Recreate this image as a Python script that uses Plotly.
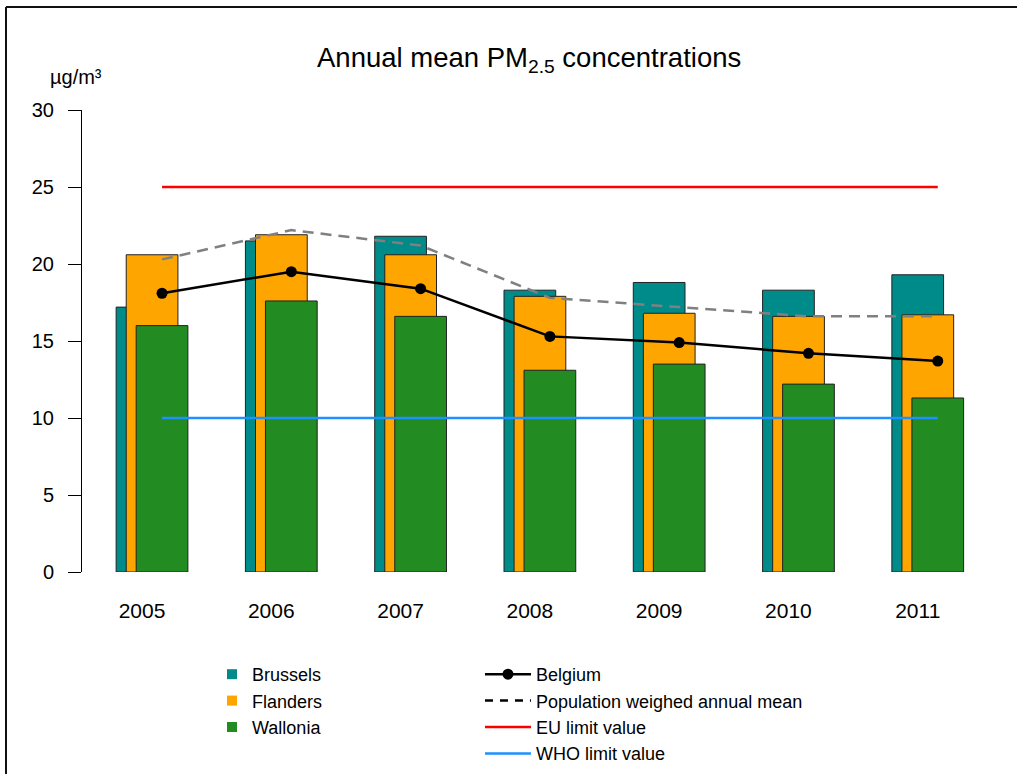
import plotly.graph_objects as go

years = [2005, 2006, 2007, 2008, 2009, 2010, 2011]
brussels = [17.2, 21.5, 21.8, 18.3, 18.8, 18.3, 19.3]
flanders = [20.6, 21.9, 20.6, 17.9, 16.8, 16.6, 16.7]
wallonia = [16.0, 17.6, 16.6, 13.1, 13.5, 12.2, 11.3]
belgium = [18.1, 19.5, 18.4, 15.3, 14.9, 14.2, 13.7]
pop_weighted = [20.3, 22.2, 21.2, 17.8, 17.2, 16.6, 16.6]
eu_limit = [25] * len(years)
who_limit = [10] * len(years)
y_ticks = [0, 5, 10, 15, 20, 25, 30]

FONT = "Liberation Sans, Arial, sans-serif"
TEAL, ORANGE, GREEN = "#008B8B", "#FFA500", "#228B22"
BAR_W = 0.4

fig = go.Figure()

# overlapping bars, each region shifted a little to the right
for name, vals, col, off in [
    ("Brussels", brussels, TEAL, -0.355),
    ("Flanders", flanders, ORANGE, -0.277),
    ("Wallonia", wallonia, GREEN, -0.2),
]:
    fig.add_trace(go.Bar(
        x=years, y=vals, width=BAR_W, offset=off,
        marker=dict(color=col, line=dict(color="#222222", width=1)),
        showlegend=False, hoverinfo="skip",
    ))
    # small square for the legend
    fig.add_trace(go.Scatter(
        x=[None], y=[None], mode="markers", name=name,
        marker=dict(symbol="square", size=10, color=col),
        legend="legend",
    ))

fig.add_trace(go.Scatter(
    x=years, y=eu_limit, mode="lines", name="EU limit value",
    line=dict(color="#FF0000", width=2.5), legend="legend2", legendrank=3,
))
fig.add_trace(go.Scatter(
    x=years, y=who_limit, mode="lines", name="WHO limit value",
    line=dict(color="#1E90FF", width=2.5), legend="legend2", legendrank=4,
))
fig.add_trace(go.Scatter(
    x=years, y=pop_weighted, mode="lines", showlegend=False,
    line=dict(color="#808080", width=2.5, dash="11px,7px"),
))
fig.add_trace(go.Scatter(
    x=[None], y=[None], mode="lines", name="Population weighed annual mean",
    line=dict(color="black", width=2.5, dash="8px,7px"), legend="legend2", legendrank=2,
))
fig.add_trace(go.Scatter(
    x=years, y=belgium, mode="lines+markers", name="Belgium",
    line=dict(color="black", width=2.5), marker=dict(size=11, color="black"),
    legend="legend2", legendrank=1,
))

# frame round the picture (left and top edges only are visible)
fig.add_shape(type="line", xref="paper", yref="paper", x0=-0.0837, x1=-0.0837,
              y0=-0.5, y1=1.2229, line=dict(color="#111111", width=2))
fig.add_shape(type="line", xref="paper", yref="paper", x0=-0.0837, x1=1.2,
              y0=1.2229, y1=1.2229, line=dict(color="#111111", width=2))

fig.add_annotation(text="Annual mean PM<sub>2.5</sub> concentrations", xref="paper", yref="paper",
                   x=0.492, y=1.110, xanchor="center", yanchor="middle", showarrow=False,
                   font=dict(size=27.5, color="black", family=FONT))
fig.add_annotation(text="µg/m³", xref="paper", yref="paper",
                   x=-0.0066, y=1.0714, xanchor="center", yanchor="middle", showarrow=False,
                   font=dict(size=20, color="black", family=FONT))

fig.update_layout(
    width=1017, height=774,
    margin=dict(l=82, r=27, t=110, b=202, autoexpand=False),
    plot_bgcolor="white", paper_bgcolor="white",
    barmode="overlay",
    font=dict(family=FONT, color="black"),
    legend=dict(x=0.1432, y=-0.1818, xanchor="left", yanchor="top",
                font=dict(size=18), bgcolor="rgba(0,0,0,0)"),
    legend2=dict(x=0.4383, y=-0.1818, xanchor="left", yanchor="top", itemwidth=46,
                 font=dict(size=18), bgcolor="rgba(0,0,0,0)", traceorder="normal"),
)
fig.update_xaxes(
    range=[2004.381, 2011.404], showgrid=False, zeroline=False, showline=False,
    tickvals=[y - 0.155 for y in years], ticktext=[str(y) for y in years],
    ticks="", ticklabelstandoff=24, tickfont=dict(size=21),
)
fig.update_yaxes(
    range=[0, 30], showgrid=False, zeroline=False, showline=True,
    linecolor="black", linewidth=1, ticks="outside", ticklen=13,
    tickcolor="black", tickwidth=1, tickvals=y_ticks,
    ticklabelstandoff=10, tickfont=dict(size=20),
)

fig.write_html("out.html", config={"displayModeBar": False},
               post_script="document.body.style.margin='0';document.body.style.overflow='hidden';")
